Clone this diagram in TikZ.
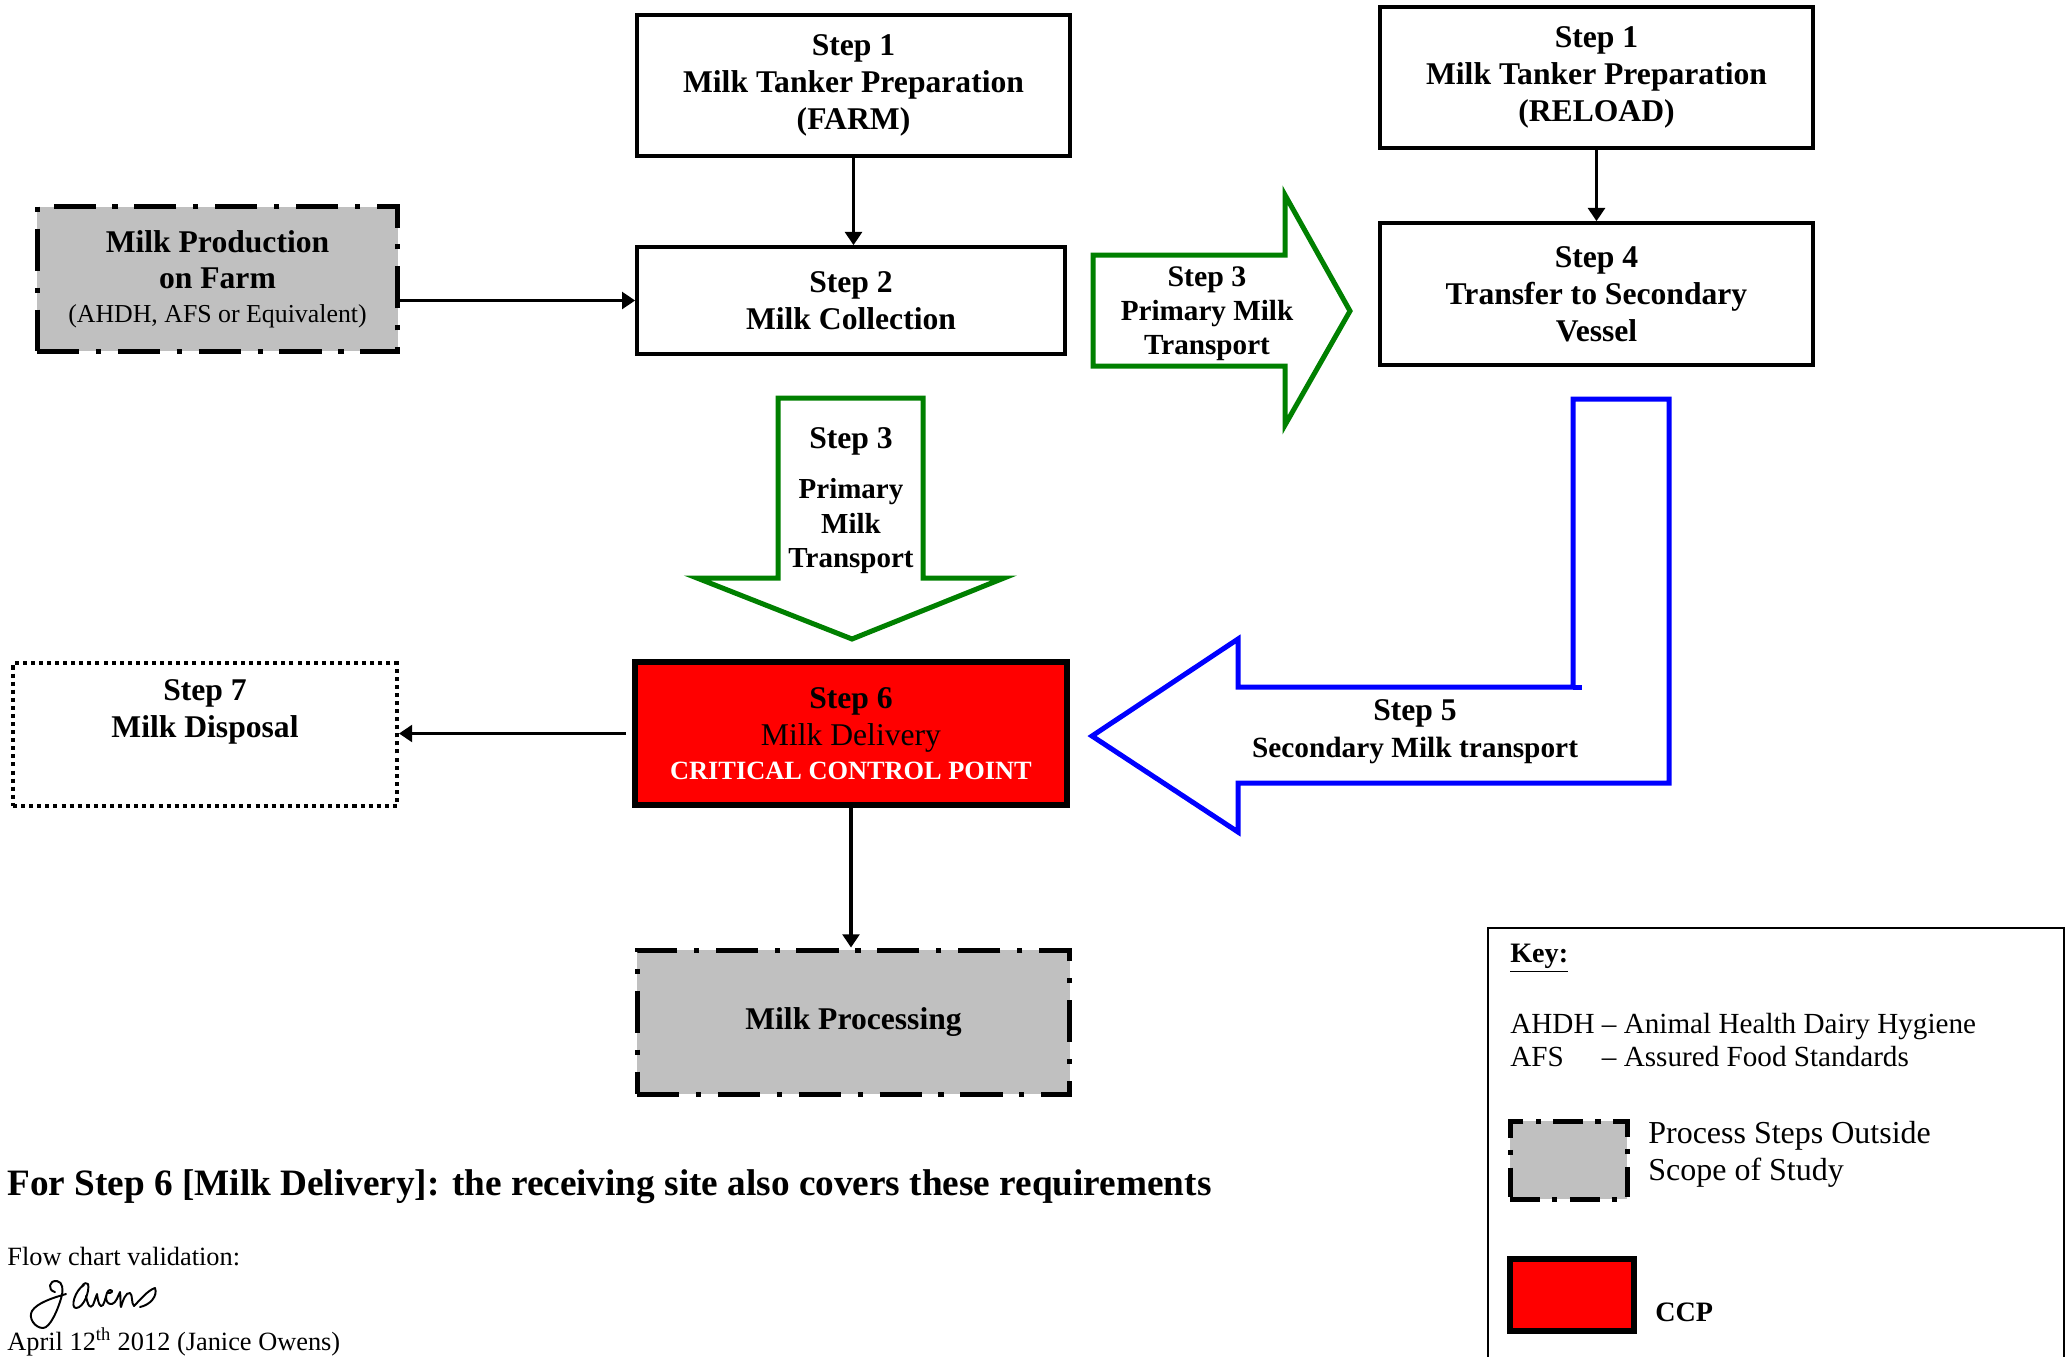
\documentclass[tikz,border=0pt]{standalone}
\usepackage{fontspec}
\setmainfont{Liberation Serif}
\usetikzlibrary{arrows.meta}
\definecolor{scopegray}{RGB}{192,192,192}
\definecolor{arrowgreen}{RGB}{0,128,0}
\definecolor{ccpred}{RGB}{255,0,0}
\definecolor{arrowblue}{RGB}{0,0,255}
\tikzset{
  box/.style={draw, line width=2.1pt, inner sep=0pt, align=center, font=\fontsize{18}{21}\selectfont\bfseries},
  outside/.style={draw, fill=scopegray, line width=2.85pt, dash pattern=on 24pt off 9.5pt on 3pt off 9.5pt, inner sep=0pt, align=center, font=\fontsize{18}{21}\selectfont\bfseries},
  ccpbox/.style={draw, fill=ccpred, line width=3.8pt, inner sep=0pt, align=center, font=\fontsize{18}{21}\selectfont\bfseries},
  dottedbox/.style={draw, line width=2.3pt, dash pattern=on 2.3pt off 2.3pt, inner sep=0pt},
  conn/.style={line width=2pt, -{Triangle[length=7.5pt,width=9.5pt]}},
  greenarrow/.style={draw=arrowgreen, line width=2.85pt, line join=miter},
  bluearrow/.style={draw=arrowblue, line width=2.85pt, line join=miter},
  lbl/.style={inner sep=0pt, align=center},
  plain/.style={inner sep=0pt, align=left},
  sig/.style={line width=1.1pt, line cap=round, line join=round},
}
\begin{document}
\begin{tikzpicture}[x=0.02cm,y=-0.02cm]
\clip (0,0) rectangle (2071,1356);
\fill[white] (0,0) rectangle (2071,1356);

% boxes
\node[box, minimum width=8.66cm, minimum height=2.82cm] (s1a) at (853.5,85.5) {Step 1\\Milk Tanker Preparation\\(FARM)};
\node[box, minimum width=8.56cm, minimum height=2.14cm] (s2) at (851,300.5) {Step 2\\Milk Collection};
\node[outside, minimum width=7.22cm, minimum height=2.9cm] (mp) at (217.5,279) {Milk Production\\on Farm\\[-2pt]{\fontsize{14.7}{18}\selectfont\mdseries (AHDH, AFS or Equivalent)}};
\node[box, minimum width=8.66cm, minimum height=2.82cm] (s1b) at (1596.5,77.5) {Step 1\\Milk Tanker Preparation\\(RELOAD)};
\node[box, minimum width=8.66cm, minimum height=2.84cm] (s4) at (1596.5,294) {Step 4\\Transfer to Secondary\\Vessel};
\node[ccpbox, minimum width=8.64cm, minimum height=2.86cm] (s6) at (851,733.5) {Step 6\\{\mdseries Milk Delivery}\\[-1.7pt]{\color{white}\fontsize{15}{18}\selectfont CRITICAL CONTROL POINT}};
\node[dottedbox, minimum width=7.68cm, minimum height=2.86cm] (s7) at (205,734.5) {};
\node[lbl, font=\fontsize{18}{21}\selectfont\bfseries] (s7t) at (205,712) {Step 7\\Milk Disposal};
\node[outside, minimum width=8.66cm, minimum height=2.88cm] (proc) at (853.5,1022) {Milk Processing};

% connectors
\draw[conn] (s1a.south) -- (s1a.south |- s2.north);
\draw[conn] (s2.west -| mp.east) -- (s2.west);
\draw[conn] (s1b.south) -- (s1b.south |- s4.north);
\draw[conn, shorten <=3.5pt] (s6.west) -- (s6.west -| s7.east);
\draw[conn] (s6.south) -- (s6.south |- proc.north);

% green right arrow (step 3)
\draw[greenarrow] (1093,255) -- (1285,255) -- (1285,195) -- (1350,311) -- (1285,425) -- (1285,366) -- (1093,366) -- cycle;
\node[lbl, font=\fontsize{16.6}{19.3}\selectfont\bfseries] (g3r) at (1207,313.5) {{\fontsize{17}{19.3}\selectfont Step 3}\\Primary Milk\\Transport};

% green down arrow (step 3)
\draw[greenarrow] (778,398) -- (923,398) -- (923,578) -- (1004,578) -- (852,639) -- (697,578) -- (778,578) -- cycle;
\node[lbl, font=\fontsize{16.5}{19.6}\selectfont\bfseries] (g3d) at (851,500.5) {{\fontsize{18}{19.6}\selectfont Step 3}\\[9pt]Primary\\Milk\\Transport};

% blue arrow (step 5)
\draw[bluearrow] (1092,736) -- (1238,639) -- (1238,687) -- (1573,687) -- (1573,399) -- (1669,399) -- (1669,783) -- (1238,783) -- (1238,832) -- cycle;
\draw[bluearrow] (1573,687) -- (1582,687);
\node[lbl, font=\fontsize{16.7}{21}\selectfont\bfseries] (b5) at (1415,731.5) {{\fontsize{18}{21}\selectfont Step 5}\\Secondary Milk transport};

% key
\node[draw, line width=1.1pt, minimum width=11.52cm, minimum height=8.8cm, inner sep=0pt] (key) at (1776,1148) {};
\node[plain, anchor=west, font=\fontsize{16}{19}\selectfont\bfseries] (keyt) at (1510,958) {\underline{Key:}};
\node[plain, anchor=north west, font=\fontsize{16.6}{18.8}\selectfont] (abbr) at (1510,1010) {\begin{tabular}{@{}l@{ }l@{}}AHDH & – Animal Health Dairy Hygiene\\AFS & – Assured Food Standards\end{tabular}};
\node[draw, fill=scopegray, line width=2.85pt, dash pattern=on 17pt off 7pt on 3pt off 7pt, minimum width=2.34cm, minimum height=1.56cm, inner sep=0pt] (kg) at (1568.5,1160) {};
\node[plain, anchor=west, font=\fontsize{18.2}{21}\selectfont] (kgt) at (1648,1154.5) {Process Steps Outside\\Scope of Study};
\node[draw, fill=ccpred, line width=3.5pt, minimum width=2.48cm, minimum height=1.44cm, inner sep=0pt] (kr) at (1572,1295) {};
\node[plain, anchor=west, font=\fontsize{16}{19}\selectfont\bfseries] (krt) at (1655,1312) {CCP};

% bottom text
\node[plain, anchor=base west, font=\fontsize{21.2}{25}\selectfont\bfseries] (req) at (7,1195) {For Step 6 [Milk Delivery]: the receiving site also covers these requirements};
\node[plain, anchor=base west, font=\fontsize{15}{18}\selectfont] (val) at (7,1265) {Flow chart validation:};
\node[plain, anchor=base west, font=\fontsize{15}{18}\selectfont] (date) at (7,1350) {April 12\textsuperscript{th} 2012 (Janice Owens)};

% signature
\draw[sig] (55,1292) .. controls (47,1290) and (49,1280) .. (57,1281) .. controls (63,1282) and (63,1290) .. (62,1295) .. controls (58,1310) and (50,1328) .. (43,1328) .. controls (35,1328) and (28,1318) .. (32,1311) .. controls (37,1303) and (52,1298) .. (66,1294);
\draw[sig] (84,1285) .. controls (75,1290) and (70,1308) .. (76,1308) .. controls (84,1308) and (90,1290) .. (88,1284) .. controls (87,1282) and (84,1283) .. (82,1286);
\draw[sig] (86,1296) .. controls (88,1306) and (90,1309) .. (93,1305) .. controls (95,1300) and (96,1296) .. (97,1294) .. controls (98,1302) and (100,1309) .. (103,1305) .. controls (105,1301) and (106,1296) .. (107,1293) .. controls (112,1294) and (114,1290) .. (110,1290) .. controls (105,1291) and (104,1305) .. (112,1304) .. controls (116,1303) and (118,1296) .. (120,1292) .. controls (121,1300) and (120,1305) .. (121,1307) .. controls (123,1300) and (126,1292) .. (130,1293) .. controls (133,1295) and (131,1303) .. (134,1306) .. controls (140,1300) and (148,1290) .. (155,1288) .. controls (158,1296) and (150,1305) .. (140,1307);
\end{tikzpicture}
\end{document}
